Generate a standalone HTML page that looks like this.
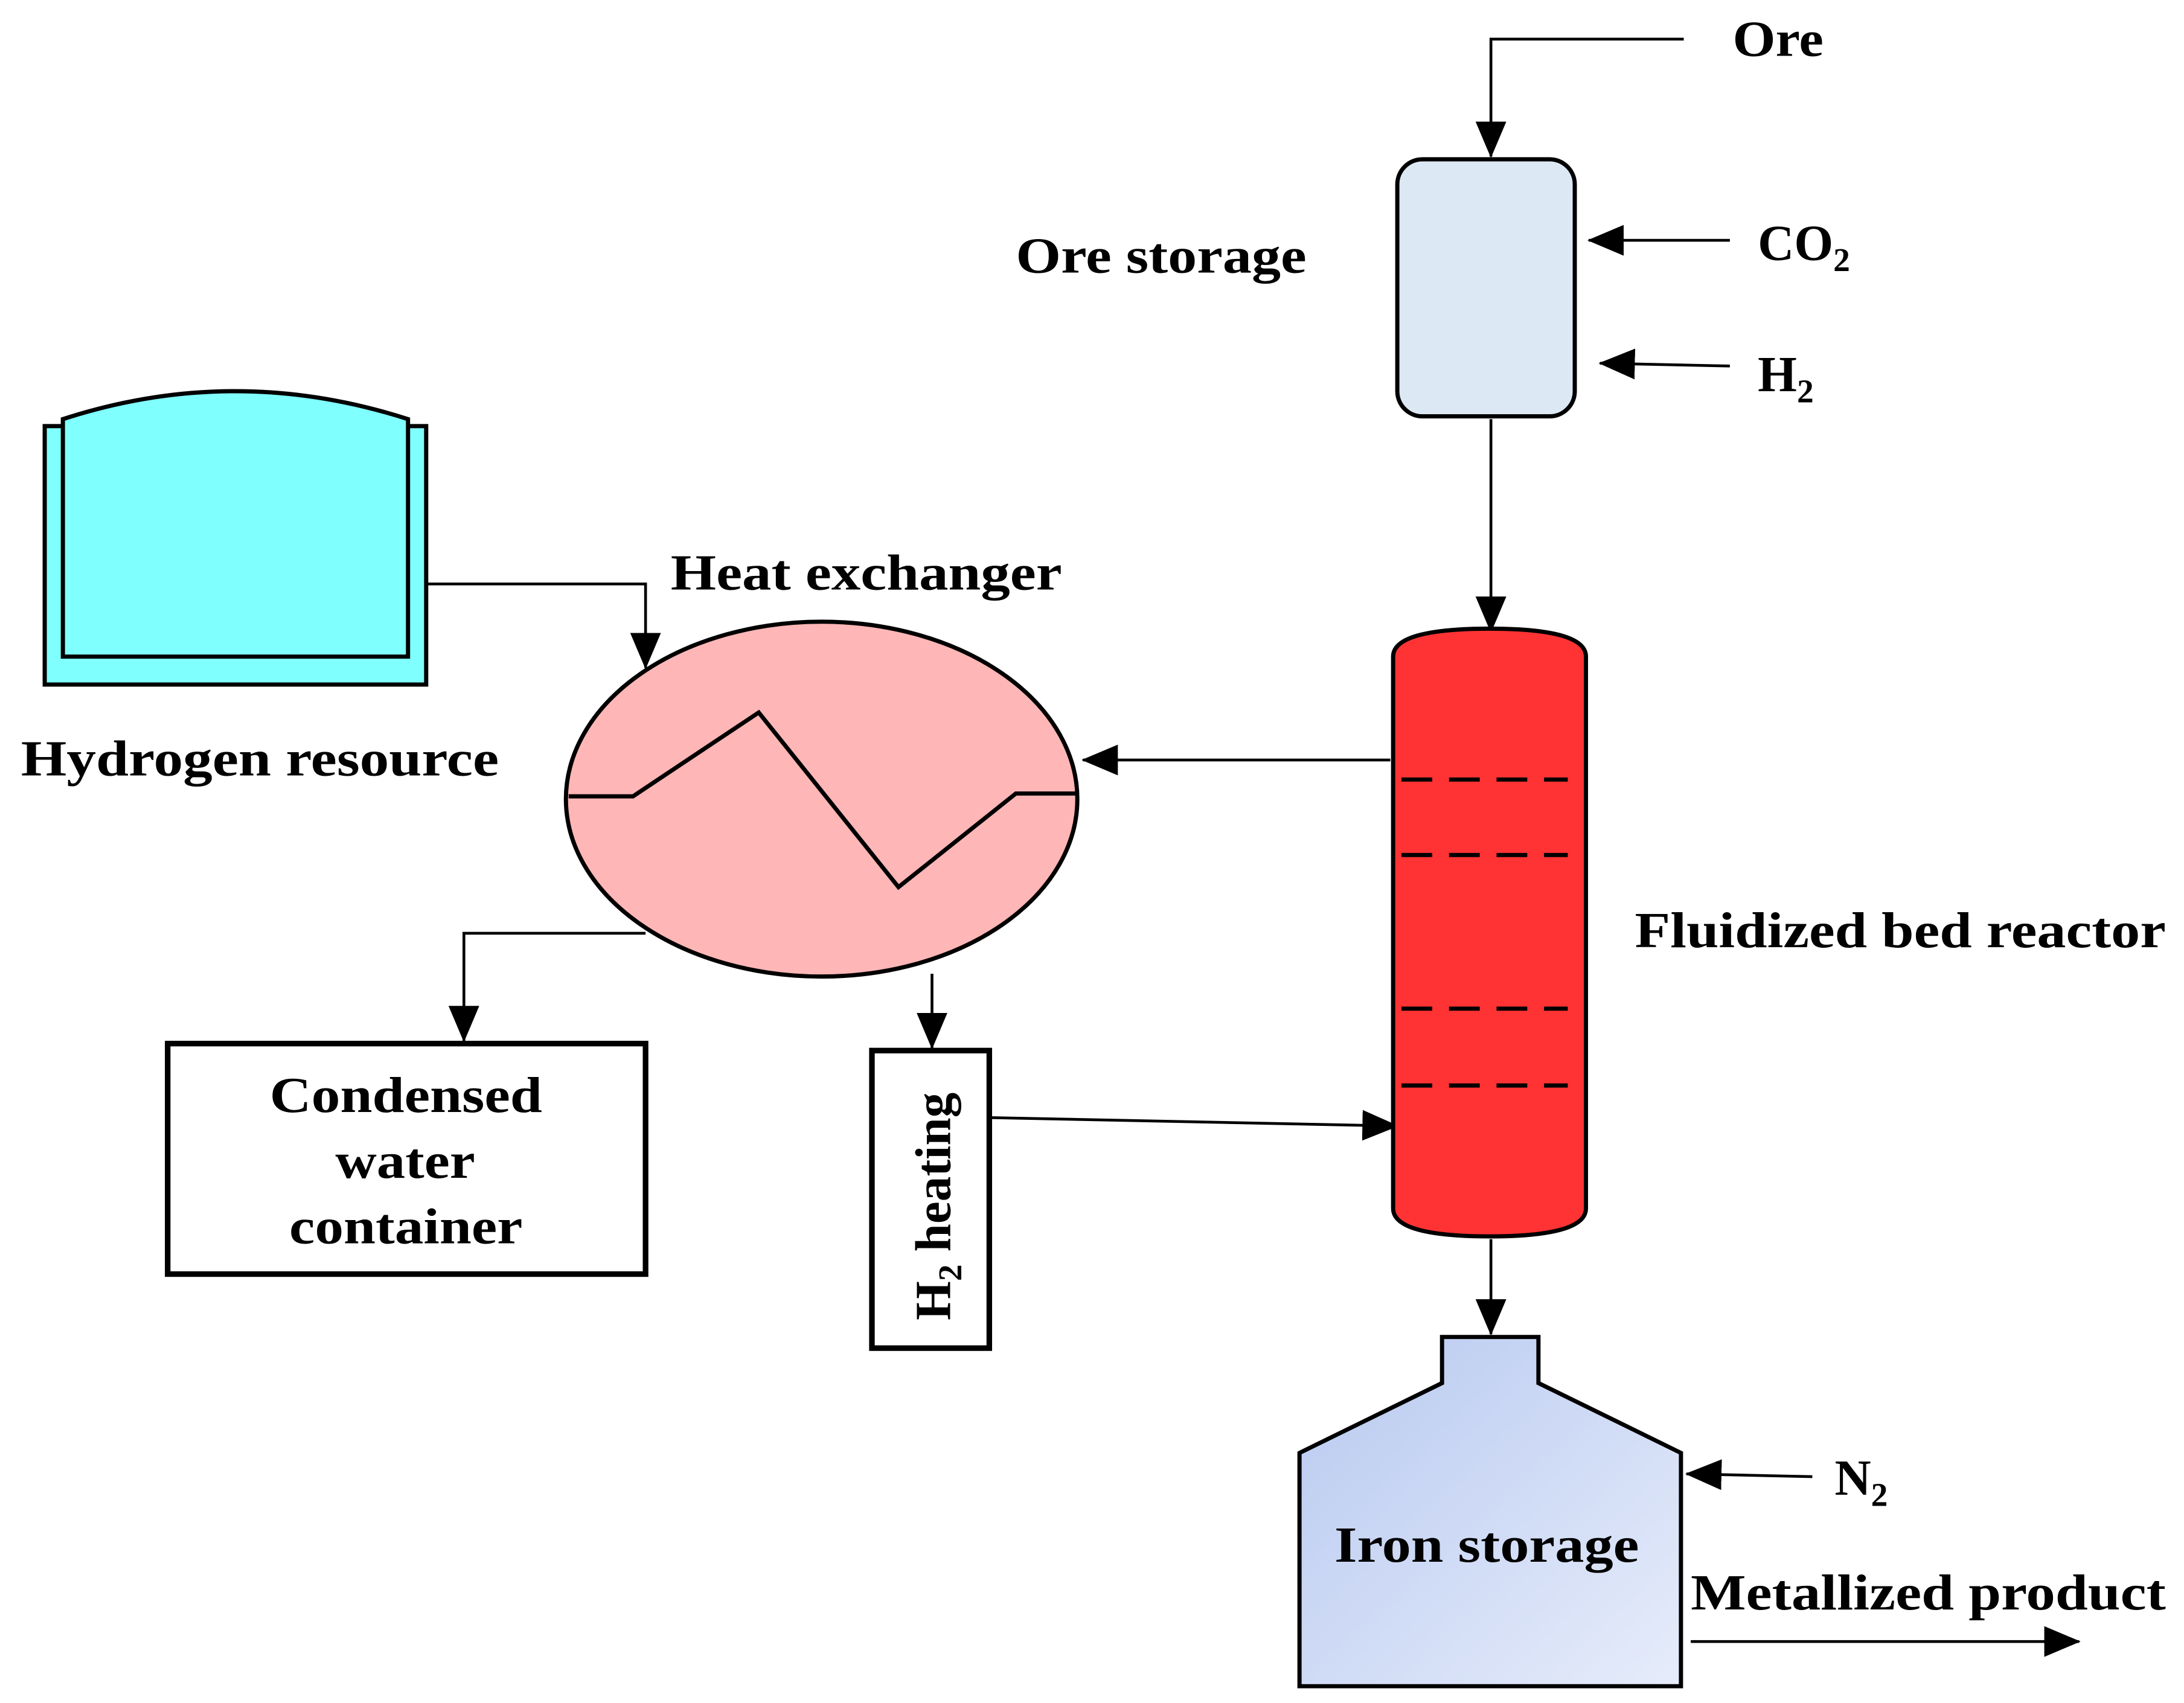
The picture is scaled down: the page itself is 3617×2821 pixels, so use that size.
<!DOCTYPE html>
<html><head><meta charset="utf-8"><style>
html,body{margin:0;padding:0;background:#fff;}
svg{display:block;}
text{font-family:"Liberation Serif",serif;font-weight:bold;font-size:36px;fill:#000;}
</style></head><body>
<svg width="3617" height="2821" viewBox="0 0 1563 1219" xmlns="http://www.w3.org/2000/svg">
<defs>
<marker id="b" markerWidth="26" markerHeight="22" refX="25" refY="11" orient="auto" markerUnits="userSpaceOnUse">
<path d="M0,0 L26,11 L0,22 z" fill="#000"/></marker>
<linearGradient id="g" x1="0" y1="0" x2="1" y2="1">
<stop offset="0" stop-color="#b8c9f0"/><stop offset="1" stop-color="#e6ecfa"/></linearGradient>
</defs>
<g stroke="#000" stroke-width="2" fill="none">
<polyline points="1205,28 1067,28 1067,112" marker-end="url(#b)"/>
<line x1="1238" y1="172" x2="1137" y2="172" marker-end="url(#b)"/>
<line x1="1238" y1="262" x2="1145" y2="260" marker-end="url(#b)"/>
<line x1="1067" y1="300" x2="1067" y2="452" marker-end="url(#b)"/>
<polyline points="305,418 462,418 462,478" marker-end="url(#b)"/>
<line x1="995" y1="544" x2="775" y2="544" marker-end="url(#b)"/>
<polyline points="462,668 332,668 332,745" marker-end="url(#b)"/>
<line x1="667" y1="697" x2="667" y2="750" marker-end="url(#b)"/>
<line x1="708" y1="800" x2="1000" y2="806" marker-end="url(#b)"/>
<line x1="1067" y1="887" x2="1067" y2="955" marker-end="url(#b)"/>
<line x1="1297" y1="1057" x2="1207" y2="1055" marker-end="url(#b)"/>
<line x1="1210" y1="1175" x2="1488" y2="1175" marker-end="url(#b)"/>
</g>
<rect x="1000" y="114" width="127" height="184" rx="18" fill="#dce8f4" stroke="#000" stroke-width="3"/>
<path d="M997,470 Q997,450 1066,450 Q1135,450 1135,470 L1135,865 Q1135,885 1066,885 Q997,885 997,865 Z" fill="#ff3333" stroke="#000" stroke-width="3"/>
<g stroke="#000" stroke-width="3" stroke-dasharray="22,12">
<line x1="1003" y1="558" x2="1122" y2="558"/>
<line x1="1003" y1="612" x2="1122" y2="612"/>
<line x1="1003" y1="722" x2="1122" y2="722"/>
<line x1="1003" y1="777" x2="1122" y2="777"/>
</g>
<rect x="32" y="305" width="273" height="185" fill="#80ffff" stroke="#000" stroke-width="3"/>
<path d="M45,470 L45,300 Q168,260 292,300 L292,470 Z" fill="#80ffff" stroke="#000" stroke-width="3"/>
<ellipse cx="588" cy="572" rx="183" ry="127" fill="#ffb6b6" stroke="#000" stroke-width="3"/>
<polyline points="407,570 453,570 543,510 643,635 727,568 770,568" fill="none" stroke="#000" stroke-width="3"/>
<rect x="120" y="747" width="342" height="165" fill="#fff" stroke="#000" stroke-width="4"/>
<rect x="624" y="752" width="84" height="213" fill="#fff" stroke="#000" stroke-width="4"/>
<polygon points="1032,957 1101,957 1101,990 1203,1040 1203,1207 930,1207 930,1040 1032,990" fill="url(#g)" stroke="#000" stroke-width="3"/>
<text x="1240" y="40" textLength="65" lengthAdjust="spacingAndGlyphs">Ore</text>
<text x="727" y="195" textLength="208" lengthAdjust="spacingAndGlyphs">Ore storage</text>
<text x="1258" y="186">CO<tspan font-size="24" dy="8">2</tspan></text>
<text x="1258" y="280">H<tspan font-size="24" dy="8">2</tspan></text>
<text x="1170" y="678" textLength="380" lengthAdjust="spacingAndGlyphs">Fluidized bed reactor</text>
<text x="15" y="555" textLength="342" lengthAdjust="spacingAndGlyphs">Hydrogen resource</text>
<text x="480" y="422" textLength="280" lengthAdjust="spacingAndGlyphs">Heat exchanger</text>
<text x="193" y="796" textLength="195" lengthAdjust="spacingAndGlyphs">Condensed</text>
<text x="240" y="843" textLength="100" lengthAdjust="spacingAndGlyphs">water</text>
<text x="207" y="890" textLength="167" lengthAdjust="spacingAndGlyphs">container</text>
<text transform="translate(680,945) rotate(-90)">H<tspan font-size="24" dy="8">2</tspan><tspan dy="-8"> heating</tspan></text>
<text x="955" y="1118" textLength="218" lengthAdjust="spacingAndGlyphs">Iron storage</text>
<text x="1313" y="1070">N<tspan font-size="24" dy="8">2</tspan></text>
<text x="1210" y="1152" textLength="340" lengthAdjust="spacingAndGlyphs">Metallized product</text>
</svg>
</body></html>
